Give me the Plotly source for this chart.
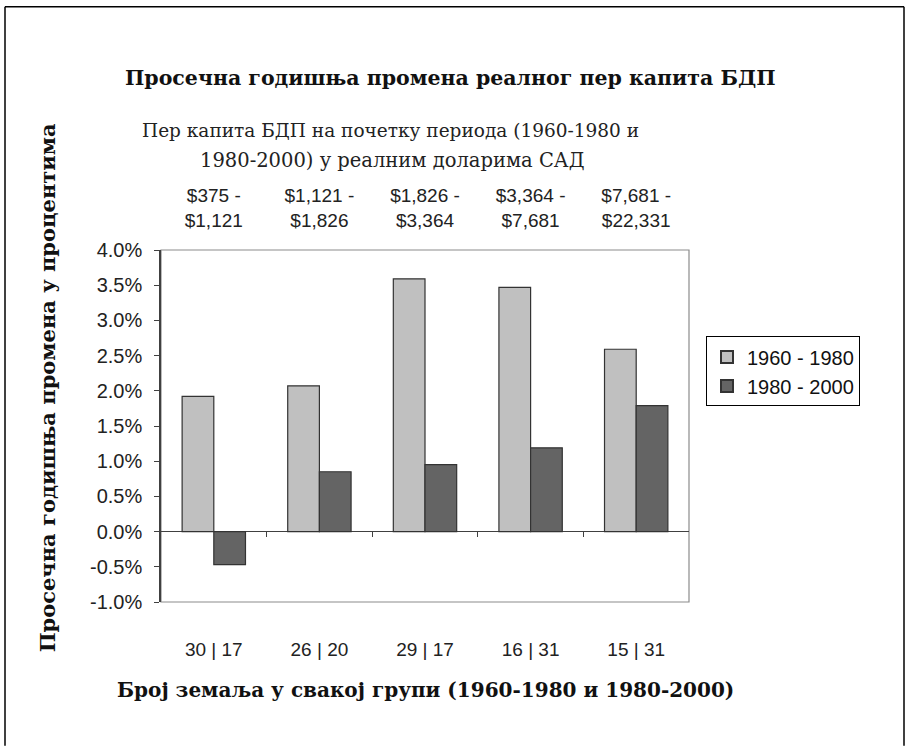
import plotly.graph_objects as go

# ---------------- data ----------------
bottom_labels = ["30 | 17", "26 | 20", "29 | 17", "16 | 31", "15 | 31"]
top_labels = ["$375 -<br>$1,121", "$1,121 -<br>$1,826", "$1,826 -<br>$3,364",
              "$3,364 -<br>$7,681", "$7,681 -<br>$22,331"]
series_1960_1980 = [1.92, 2.07, 3.59, 3.47, 2.59]
series_1980_2000 = [-0.47, 0.85, 0.95, 1.19, 1.79]
y_tickvals = [-1.0, -0.5, 0.0, 0.5, 1.0, 1.5, 2.0, 2.5, 3.0, 3.5, 4.0]
y_ticktext = ["-1.0%", "-0.5%", "0.0%", "0.5%", "1.0%", "1.5%", "2.0%",
              "2.5%", "3.0%", "3.5%", "4.0%"]
positions = [0, 1, 2, 3, 4]

# ---------------- layout geometry ----------------
W, H = 908, 746
L, R, T, B = 161, 689, 249.5, 602
PW, PH = R - L, B - T


def px(x):
    return (x - L) / PW


def py(y):
    return (B - y) / PH


fig = go.Figure()
fig.add_trace(go.Bar(x=positions, y=series_1960_1980, name="1960 - 1980",
                     marker=dict(color="#C0C0C0", line=dict(color="#333333", width=1.2))))
fig.add_trace(go.Bar(x=positions, y=series_1980_2000, name="1980 - 2000",
                     marker=dict(color="#646464", line=dict(color="#333333", width=1.2))))

axis_font = dict(family="Liberation Sans, Arial, sans-serif", size=19, color="#222222")

fig.update_layout(
    width=W, height=H,
    margin=dict(l=L, r=W - R, t=T, b=H - B),
    paper_bgcolor="white", plot_bgcolor="white",
    barmode="group", bargap=0.4, bargroupgap=0.0,
    showlegend=True,
    legend=dict(x=px(706), y=py(336), xanchor="left", yanchor="top",
                bordercolor="#000000", borderwidth=1, bgcolor="white",
                font=dict(family="Liberation Sans, Arial, sans-serif", size=20, color="#111111"),
                itemsizing="constant", tracegroupgap=0, itemwidth=30),
    xaxis=dict(range=[-0.5, 4.5], tickmode="array", tickvals=positions,
               ticktext=bottom_labels, ticks="", showline=False, showgrid=False,
               zeroline=False, tickfont=axis_font, ticklabelstandoff=34),
    xaxis2=dict(range=[-0.5, 4.5], overlaying="x", side="top", tickmode="array",
                tickvals=positions, ticktext=top_labels, ticks="", showline=False,
                showgrid=False, zeroline=False, tickfont=axis_font, ticklabelstandoff=18),
    xaxis3=dict(range=[-0.5, 4.5], overlaying="x", anchor="free", position=py(531),
                tickmode="array", tickvals=[0.5, 1.5, 2.5, 3.5], ticks="outside",
                ticklen=5, tickcolor="#404040", showticklabels=False, showline=False,
                showgrid=False, zeroline=False),
    yaxis=dict(range=[-1.0, 4.0], tickmode="array", tickvals=y_tickvals,
               ticktext=y_ticktext, ticks="outside", ticklen=5, tickcolor="#404040",
               showline=True, linecolor="#404040", linewidth=1.5, showgrid=False,
               zeroline=True, zerolinecolor="#404040", zerolinewidth=1.2,
               tickfont=dict(family="Liberation Sans, Arial, sans-serif", size=20, color="#222222"),
               ticklabelstandoff=8),
)

# invisible traces so the extra axes are drawn
fig.add_trace(go.Scatter(x=positions, y=series_1960_1980, xaxis="x2", mode="markers",
                         marker=dict(opacity=0), showlegend=False, hoverinfo="skip"))
fig.add_trace(go.Scatter(x=positions, y=series_1960_1980, xaxis="x3", mode="markers",
                         marker=dict(opacity=0), showlegend=False, hoverinfo="skip"))

# plot-area border (gray)
fig.add_shape(type="rect", xref="paper", yref="paper", x0=0, y0=0, x1=1, y1=1,
              line=dict(color="#8c8c8c", width=1.2), layer="below")
# image border
fig.add_shape(type="line", xref="paper", yref="paper", x0=px(5), y0=py(6), x1=px(5), y1=py(746),
              line=dict(color="#000000", width=1.5))
fig.add_shape(type="line", xref="paper", yref="paper", x0=px(5), y0=py(6), x1=px(904), y1=py(6),
              line=dict(color="#000000", width=1.5))
fig.add_shape(type="line", xref="paper", yref="paper", x0=px(904), y0=py(6), x1=px(904), y1=py(746),
              line=dict(color="#000000", width=1.5))

bold_serif = "DejaVu Serif, serif"
fig.add_annotation(text="<b>Просечна годишња промена реалног пер капита БДП</b>",
                   xref="paper", yref="paper", x=px(450), y=py(77), showarrow=False,
                   xanchor="center", yanchor="middle",
                   font=dict(family=bold_serif, size=20.5, color="#111111"))
fig.add_annotation(text="Пер капита БДП на почетку периода (1960-1980 и",
                   xref="paper", yref="paper", x=px(390), y=py(130), showarrow=False,
                   xanchor="center", yanchor="middle",
                   font=dict(family="DejaVu Serif, serif", size=18.5, color="#222222"))
fig.add_annotation(text="1980-2000) у реалним доларима САД",
                   xref="paper", yref="paper", x=px(392), y=py(160), showarrow=False,
                   xanchor="center", yanchor="middle",
                   font=dict(family="DejaVu Serif, serif", size=19.5, color="#222222"))
fig.add_annotation(text="<b>Просечна годишња промена у процентима</b>",
                   xref="paper", yref="paper", x=px(47), y=py(388), showarrow=False,
                   textangle=-90, xanchor="center", yanchor="middle",
                   font=dict(family=bold_serif, size=21, color="#111111"))
fig.add_annotation(text="<b>Број земаља у свакој групи (1960-1980 и 1980-2000)</b>",
                   xref="paper", yref="paper", x=px(425), y=py(690), showarrow=False,
                   xanchor="center", yanchor="middle",
                   font=dict(family=bold_serif, size=20, color="#111111"))

fig.write_html("out.html", config={"displayModeBar": False},
               post_script="document.body.style.margin='0';document.body.style.overflow='hidden';")
